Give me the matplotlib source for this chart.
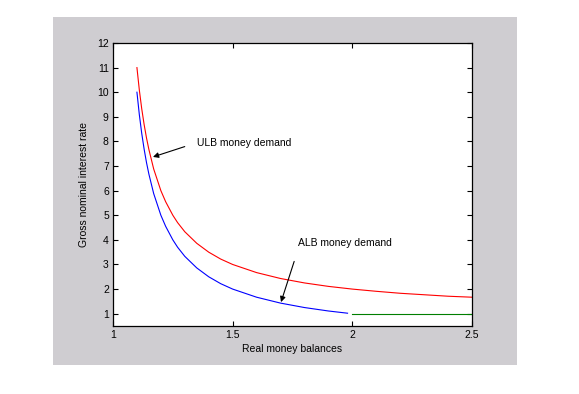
import matplotlib
matplotlib.use("Agg")
import matplotlib.pyplot as plt
from matplotlib.patches import Rectangle

plt.rcParams['font.family'] = ['Liberation Sans', 'DejaVu Sans']

# Data
ulb_x = [1.10, 1.11, 1.12, 1.13, 1.14, 1.15, 1.17, 1.20, 1.22, 1.25, 1.27, 1.30,
         1.35, 1.40, 1.45, 1.50, 1.60, 1.70, 1.80, 1.90, 2.00, 2.10, 2.20, 2.30,
         2.40, 2.50]
ulb_y = [11.0, 10.09, 9.33, 8.69, 8.14, 7.67, 6.88, 6.00, 5.55, 5.00, 4.70, 4.33,
         3.86, 3.50, 3.22, 3.00, 2.67, 2.43, 2.25, 2.11, 2.00, 1.91, 1.83, 1.77,
         1.71, 1.67]
alb_x = [1.10, 1.11, 1.12, 1.13, 1.14, 1.15, 1.17, 1.20, 1.22, 1.25, 1.27, 1.30,
         1.35, 1.40, 1.45, 1.50, 1.60, 1.70, 1.80, 1.90, 1.98]
alb_y = [10.0, 9.09, 8.33, 7.69, 7.14, 6.67, 5.88, 5.00, 4.55, 4.00, 3.70, 3.33,
         2.86, 2.50, 2.22, 2.00, 1.67, 1.43, 1.25, 1.11, 1.02]
flat_x = [2.0, 2.5]
flat_y = [1.0, 1.0]

x_ticks = [1, 1.5, 2, 2.5]
x_ticklabels = ['1', '1.5', '2', '2.5']
y_ticks = list(range(1, 13))

W, H = 579, 394
fig = plt.figure(figsize=(W / 100, H / 100), dpi=100)
fig.patch.set_facecolor('white')
# gray MATLAB-style figure panel
bg = fig.add_axes([0, 0, 1, 1], zorder=-1)
bg.set_axis_off()
bg.set_xlim(0, 1)
bg.set_ylim(0, 1)
bg.add_patch(Rectangle((53 / W, 1 - 365 / H), (517 - 53) / W, (365 - 17) / H,
                       facecolor='#cfcdd1', edgecolor='none'))

ax = fig.add_axes([113 / W, 1 - 326 / H, (472 - 113) / W, (326 - 43) / H], zorder=1)
ax.set_facecolor('white')
ax.plot(ulb_x, ulb_y, color='red', lw=0.8)
ax.plot(alb_x, alb_y, color='blue', lw=0.8)
ax.plot(flat_x, flat_y, color='#007f00', lw=0.8)

ax.set_xlim(1, 2.5)
ax.set_ylim(0.5, 12)
ax.set_xticks(x_ticks)
ax.set_xticklabels(x_ticklabels)
ax.set_yticks(y_ticks)
ax.tick_params(direction='in', top=True, right=True, length=3.5, width=0.8,
               labelsize=7.5, pad=3)
for s in ax.spines.values():
    s.set_linewidth(0.9)
    s.set_color('black')

ax.set_xlabel('Real money balances', fontsize=7.5, labelpad=3)
ax.set_ylabel('Gross nominal interest rate', fontsize=7.5, labelpad=6)

ax.annotate('ULB money demand', xy=(1.167, 7.37), xytext=(1.35, 7.95),
            fontsize=7.5, va='center', ha='left',
            arrowprops=dict(arrowstyle='-|>', color='black', lw=0.8,
                            mutation_scale=8, shrinkA=7, shrinkB=0,
                            relpos=(0, 0.5)))
ax.annotate('ALB money demand', xy=(1.702, 1.47), xytext=(1.775, 3.87),
            fontsize=7.5, va='center', ha='left',
            arrowprops=dict(arrowstyle='-|>', color='black', lw=0.8,
                            mutation_scale=8, shrinkA=8, shrinkB=0,
                            relpos=(0, 0)))

fig.savefig('out.png', dpi=100, facecolor='white')
